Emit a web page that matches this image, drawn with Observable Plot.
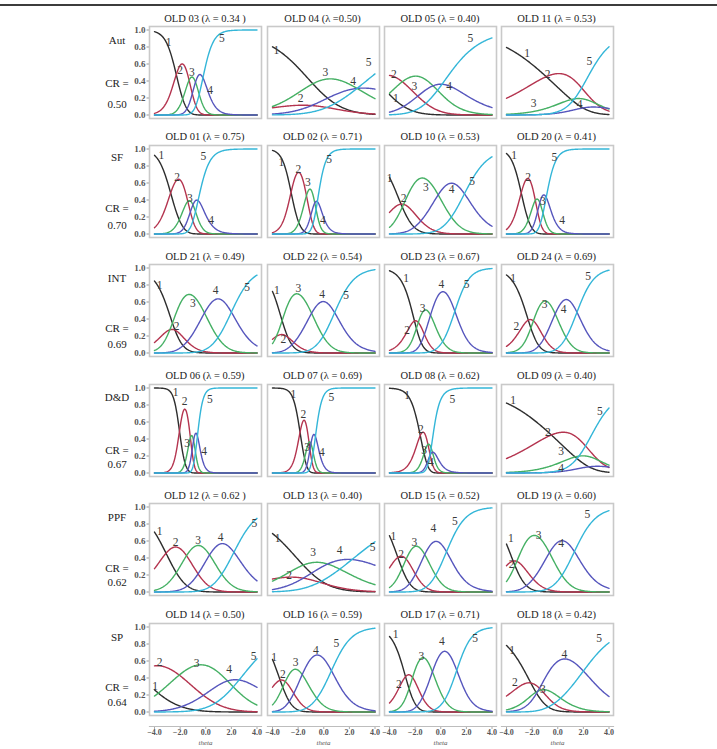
<!DOCTYPE html>
<html>
<head>
<meta charset="utf-8">
<script src="https://cdn.jsdelivr.net/npm/d3@7"></script>
<script src="https://cdn.jsdelivr.net/npm/@observablehq/plot@0.6"></script>
<style>
  html, body { margin: 0; padding: 0; background: #fff; }
  #fig { position: relative; width: 717px; height: 749px; overflow: hidden; background: #fff;
         font-family: "Liberation Serif", "DejaVu Serif", serif; color: #222; }
  .abs { position: absolute; }
  .title { font-size: 10.5px; line-height: 12px; text-align: center; white-space: nowrap; width: 150px; }
  .rowlab { font-size: 11px; line-height: 12px; text-align: center; width: 40px; white-space: nowrap; }
  svg { overflow: visible; }
</style>
</head>
<body>
<div id="fig"></div>
<script>
// ---------------- data ----------------
const factorNames = ["Aut", "SF", "INT", "D&D", "PPF", "SP"];
const factorCR = ["0.50", "0.70", "0.69", "0.67", "0.62", "0.64"];

const itemTitles = [
  "OLD 03 (λ = 0.34 )", "OLD 04 (λ =0.50)", "OLD 05 (λ = 0.40)", "OLD 11 (λ = 0.53)",
  "OLD 01 (λ = 0.75)", "OLD 02 (λ = 0.71)", "OLD 10 (λ = 0.53)", "OLD 20 (λ = 0.41)",
  "OLD 21 (λ = 0.49)", "OLD 22 (λ = 0.54)", "OLD 23 (λ = 0.67)", "OLD 24 (λ = 0.69)",
  "OLD 06 (λ = 0.59)", "OLD 07 (λ = 0.69)", "OLD 08 (λ = 0.62)", "OLD 09 (λ = 0.40)",
  "OLD 12 (λ = 0.62 )", "OLD 13 (λ = 0.40)", "OLD 15 (λ = 0.52)", "OLD 19 (λ = 0.60)",
  "OLD 14 (λ = 0.50)", "OLD 16 (λ = 0.59)", "OLD 17 (λ = 0.71)", "OLD 18 (λ = 0.42)"
];

// item slope (discrimination) estimated from the curves' steepness
const discrimination = [
  2.3, 0.33, 0.6, 0.45,
  2.0, 2.8, 1.07, 2.5,
  1.2, 1.25, 1.75, 1.45,
  4.3, 3.6, 2.4, 0.45,
  1.05, 0.35, 1.3, 1.15,
  0.55, 1.25, 1.7, 0.75
];

// step locations = theta where adjacent category curves cross (1/2, 2/3, 3/4, 4/5)
const stepThresholds = [
  [-2.3, -1.3, -0.8, -0.22], [2.8, -4.5, 2.6, 2.6], [-5.1, -3.0, -0.6, 0.1], [-0.9, 3.0, 3.8, -1.2],
  [-2.74, -1.4, -1.0, -0.6], [-2.55, -1.35, -0.7, -0.5], [-3.1, -2.9, -0.2, 1.85], [-2.85, -1.75, -1.4, -0.9],
  [-2.4, -2.8, -0.1, 2.0], [-2.8, -3.7, -0.95, 0.85], [-2.05, -1.75, -0.8, 1.1], [-2.3, -1.9, -0.2, 1.5],
  [-2.05, -1.2, -0.95, -0.65], [-1.85, -1.15, -1.0, -0.65], [-1.6, -1.0, -0.65, -0.85], [-0.5, 3.2, 4.6, -1.3],
  [-3.1, -1.5, 0.3, 2.2], [0.3, -3.5, 0.3, 2.2], [-3.35, -2.7, -1.25, 0.45], [-3.48, -3.2, -0.65, 1.3],
  [-5.33, -2.07, 1.7, 2.6], [-3.4, -3.0, -1.68, 0.6], [-2.75, -2.2, -0.65, 1.25], [-2.1, -1.3, -1.55, 2.0]
];

const categories = ["1", "2", "3", "4", "5"];
const categoryColors = ["#2e2e2e", "#b4344f", "#45b064", "#5656bd", "#34b6d8"];

// category number labels: theta and probability where each number sits
const labelTheta = [
  [-2.9, -2.0, -1.08, 0.35, 1.26], [-3.7, -1.8, 0.13, 2.3, 3.5], [-3.5, -3.66, -2.06, 0.65, 2.32], [-2.39, -0.8, -1.88, 1.7, 2.47],
  [-3.47, -2.24, -1.24, 0.41, -0.19], [-3.3, -1.98, -1.24, -0.06, 0.41], [-4.0, -2.9, -1.16, 0.85, 2.45], [-3.4, -2.32, -1.16, 0.34, -0.26],
  [-3.6, -2.27, -1.0, 0.77, 3.23], [-3.66, -3.15, -1.99, -0.13, 1.75], [-2.71, -2.63, -1.42, 0.05, 2.01], [-3.48, -3.23, -1.03, 0.46, 2.37],
  [-2.35, -1.64, -1.45, -0.12, 0.33], [-2.37, -1.59, -1.3, -0.14, 0.59], [-2.63, -1.55, -1.3, -0.77, 0.9], [-3.48, -0.77, 0.26, 0.26, 3.28],
  [-3.6, -2.35, -0.59, 1.17, 3.8], [-3.6, -2.7, -0.83, 1.24, 3.82], [-3.7, -3.1, -2.06, -0.57, 1.1], [-3.66, -3.6, -1.5, 0.26, 2.32],
  [-3.95, -3.6, -0.72, 1.83, 3.73], [-3.87, -3.2, -2.19, -0.62, 0.98], [-3.53, -3.27, -1.52, 0.08, 2.69], [-3.56, -3.35, -1.16, 0.52, 3.23]
];
const labelProb = [
  [0.85, 0.52, 0.5, 0.29, 0.9], [0.76, 0.2, 0.5, 0.4, 0.62], [0.2, 0.48, 0.34, 0.34, 0.9], [0.73, 0.48, 0.14, 0.12, 0.63],
  [0.93, 0.67, 0.42, 0.16, 0.91], [0.84, 0.76, 0.61, 0.16, 0.88], [0.65, 0.42, 0.55, 0.53, 0.62], [0.92, 0.67, 0.39, 0.16, 0.9],
  [0.8, 0.31, 0.58, 0.74, 0.77], [0.74, 0.16, 0.76, 0.69, 0.68], [0.88, 0.27, 0.53, 0.81, 0.81], [0.88, 0.31, 0.57, 0.51, 0.9],
  [0.95, 0.84, 0.35, 0.25, 0.87], [0.93, 0.69, 0.3, 0.24, 0.89], [0.91, 0.51, 0.27, 0.12, 0.87], [0.85, 0.48, 0.25, 0.05, 0.73],
  [0.71, 0.59, 0.61, 0.64, 0.81], [0.63, 0.2, 0.47, 0.49, 0.53], [0.65, 0.44, 0.59, 0.75, 0.83], [0.63, 0.32, 0.67, 0.57, 0.91],
  [0.3, 0.58, 0.57, 0.5, 0.66], [0.64, 0.44, 0.58, 0.73, 0.81], [0.91, 0.32, 0.66, 0.83, 0.87], [0.73, 0.35, 0.27, 0.68, 0.87]
];

const yTicks = [0, 0.2, 0.4, 0.6, 0.8, 1.0];
const xTicks = [-4, -2, 0, 2, 4];
const thetaRange = [-4, 4];

// ---------------- layout ----------------
const colLeft = [149, 266.5, 384, 500.5];
const rowTop = [26, 144.5, 264, 383.5, 503, 622.5];
const panelW = 112, panelH = 92;
const nameOffset = [14, 12.5, 14, 13.5, 14, 14.5];
const crOffset = [57, 63.5, 64, 66, 65, 64.5];
const valOffset = [78, 80.5, 80, 80.5, 79, 79.5];

const fig = document.getElementById("fig");
function addDiv(cls, text, left, top) {
  const d = document.createElement("div");
  d.className = "abs " + cls;
  d.textContent = text;
  d.style.left = left + "px";
  d.style.top = top + "px";
  fig.appendChild(d);
  return d;
}

// top rule of the figure
const rule = document.createElement("div");
rule.className = "abs";
Object.assign(rule.style, {left: "0px", top: "4px", width: "717px", height: "2px", background: "#3c3c3c"});
fig.appendChild(rule);

// generalized partial credit category curves from the read slope / step values
function categoryProbs(theta, a, steps) {
  const s = [0];
  for (let k = 0; k < steps.length; k++) s.push(s[k] + a * (theta - steps[k]));
  const m = Math.max(...s);
  const e = s.map(v => Math.exp(v - m));
  const tot = d3.sum(e);
  return e.map(v => v / tot);
}
const thetaGrid = d3.range(0, 161).map(i => thetaRange[0] + i * 0.05);

const serif = "Liberation Serif, DejaVu Serif, serif";

for (let r = 0; r < 6; r++) {
  addDiv("rowlab", factorNames[r], 97, rowTop[r] + nameOffset[r] - 6);
  addDiv("rowlab", "CR =", 97, rowTop[r] + crOffset[r] - 6);
  addDiv("rowlab", factorCR[r], 97, rowTop[r] + valOffset[r] - 6);

  for (let c = 0; c < 4; c++) {
    const i = r * 4 + c;
    addDiv("title", itemTitles[i], colLeft[c] + panelW / 2 - 75, rowTop[r] - 13.5);

    const curves = [];
    for (const t of thetaGrid) {
      const p = categoryProbs(t, discrimination[i], stepThresholds[i]);
      categories.forEach((cat, k) => curves.push({theta: t, p: p[k], cat}));
    }
    const labels = categories.map((cat, k) => ({theta: labelTheta[i][k], p: labelProb[i][k], cat}));

    const ml = c === 0 ? 26 : 0;
    const marks = [
      Plot.frame({stroke: "#c9c9c9", strokeWidth: 1.6}),
      Plot.line(curves, {x: "theta", y: "p", z: "cat", stroke: "cat", strokeWidth: 1.4}),
      Plot.text(labels, {x: "theta", y: "p", text: "cat", fontSize: 11.5, fontFamily: serif, fill: "#3a3a3a"})
    ];
    if (c === 0) {
      marks.unshift(Plot.axisY(yTicks, {
        label: null, tickFormat: d3.format(".1f"), tickSize: 2.5, tickPadding: 1.5, stroke: "#999",
        fill: "#555", fontSize: 9, fontFamily: serif, fontWeight: "bold"
      }));
    }
    const svg = Plot.plot({
      width: panelW + ml, height: panelH,
      marginLeft: ml, marginRight: 0, marginTop: 0, marginBottom: 0,
      x: {domain: thetaRange, insetLeft: 5, insetRight: 4.5, axis: null, label: null},
      y: {domain: [0, 1], insetTop: 3.5, insetBottom: 3.5, axis: null, label: null},
      color: {domain: categories, range: categoryColors},
      style: {background: "transparent", overflow: "visible"},
      marks
    });
    const holder = document.createElement("div");
    holder.className = "abs";
    holder.style.left = (colLeft[c] - ml) + "px";
    holder.style.top = rowTop[r] + "px";
    holder.appendChild(svg);
    fig.appendChild(holder);
  }
}

// bottom theta axes, one per column
for (let c = 0; c < 4; c++) {
  const ax = Plot.plot({
    width: panelW, height: 24,
    marginLeft: 0, marginRight: 0, marginTop: 4, marginBottom: 19,
    x: {domain: thetaRange, insetLeft: 5, insetRight: 4.5, axis: null, label: null},
    style: {background: "transparent", overflow: "visible"},
    marks: [
      Plot.frame({anchor: "top", stroke: "#bdbdbd", strokeWidth: 1.2}),
      Plot.axisX(xTicks, {
        anchor: "bottom", label: null, tickSize: 2, tickPadding: 0, stroke: "#aaa",
        tickFormat: d3.format(".1f"), fill: "#555", fontSize: 8, fontFamily: serif, fontWeight: "bold"
      }),
      Plot.text(["theta"], {frameAnchor: "bottom", dy: 17, fontSize: 7, fontFamily: serif, fontStyle: "italic", fill: "#555"})
    ]
  });
  const holder = document.createElement("div");
  holder.className = "abs";
  holder.style.left = colLeft[c] + "px";
  holder.style.top = "722px";
  holder.appendChild(ax);
  fig.appendChild(holder);
}
</script>
</body>
</html>
